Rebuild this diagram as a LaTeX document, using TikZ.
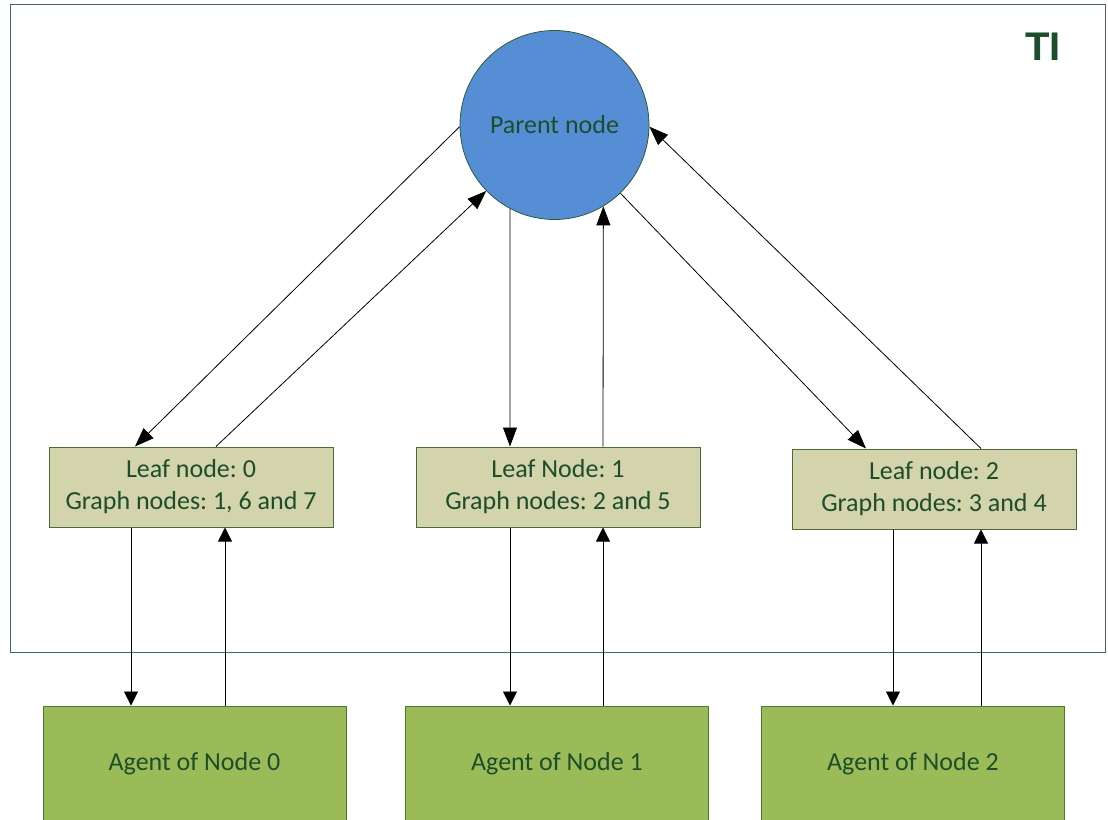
\documentclass[tikz,border=0pt]{standalone}
\usepackage{fontspec}
\setmainfont{Carlito}
\newfontfamily\headfont{Liberation Sans}
\usetikzlibrary{arrows.meta,calc}
\frenchspacing
\definecolor{txtgreen}{HTML}{1E4D2B}
\definecolor{framegreen}{HTML}{466A4C}
\definecolor{leaffill}{HTML}{D3D3AC}
\definecolor{leafline}{HTML}{4A6A3A}
\definecolor{agentfill}{HTML}{9BBB59}
\definecolor{agentline}{HTML}{4C7A30}
\definecolor{parentfill}{HTML}{558ED5}
\definecolor{parentline}{HTML}{2F5A3A}
\tikzset{
  lbl/.style={text=txtgreen, font=\fontsize{26}{32}\selectfont, align=center},
  leafbox/.style={lbl, draw=leafline, fill=leaffill, line width=1pt,
    minimum width=284pt, minimum height=80pt, inner sep=0pt},
  agentbox/.style={lbl, draw=agentline, fill=agentfill, line width=1pt,
    minimum width=303pt, minimum height=115pt, inner sep=0pt},
  parentcirc/.style={lbl, circle, draw=parentline, fill=parentfill, line width=0.8pt,
    minimum size=189pt, inner sep=0pt},
  arr/.style={draw=black, line width=0.8pt, -{Triangle[length=19pt,width=14pt]}},
  arrlow/.style={draw=black, line width=0.8pt, -{Triangle[length=14pt,width=14pt]}}
}
\begin{document}
\begin{tikzpicture}[x=1pt,y=-1pt]
  \useasboundingbox (0,0) rectangle (1108,819);
  \clip (0,0) rectangle (1108,819);
  % outer TI frame
  \draw[draw=framegreen, line width=1pt] (10,4) rectangle (1105,652);
  \node[text=txtgreen, font=\headfont\bfseries\fontsize{40}{40}\selectfont] (ti) at (1043,47) {TI};
  % tree nodes
  \node[parentcirc] (parent) at (554.5,125) {Parent node};
  \node[leafbox] (leaf0) at (191,487) {Leaf node: 0\\Graph nodes: 1, 6 and 7};
  \node[leafbox] (leaf1) at (558,487) {Leaf Node: 1\\Graph nodes: 2 and 5};
  \node[leafbox] (leaf2) at (934,489) {Leaf node: 2\\Graph nodes: 3 and 4};
  % agents
  \node[agentbox] (agent0) at (194.5,763.5) {Agent of Node 0};
  \node[agentbox] (agent1) at (557,763.5) {Agent of Node 1};
  \node[agentbox] (agent2) at (913,763.5) {Agent of Node 2};
  % parent <-> leaves
  \draw[arr] (parent.181) -- ([xshift=-56pt]leaf0.north);
  \draw[arr] ([xshift=25pt]leaf0.north) -- (parent.224);
  \draw[arr] (parent.242) -- ([xshift=-48pt]leaf1.north);
  \draw[arr] ([xshift=45pt]leaf1.north) -- (parent.301);
  \draw[arr] (parent.314) -- ([xshift=-68pt]leaf2.north);
  \draw[arr] ([xshift=47pt]leaf2.north) -- (parent.359);
  % leaves <-> agents
  \draw[arrlow] ([xshift=-60pt]leaf0.south) -- ([xshift=-60pt]leaf0.south |- agent0.north);
  \draw[arrlow] ([xshift=34pt]leaf0.south |- agent0.north) -- ([xshift=34pt]leaf0.south);
  \draw[arrlow] ([xshift=-48pt]leaf1.south) -- ([xshift=-48pt]leaf1.south |- agent1.north);
  \draw[arrlow] ([xshift=45pt]leaf1.south |- agent1.north) -- ([xshift=45pt]leaf1.south);
  \draw[arrlow] ([xshift=-41pt]leaf2.south) -- ([xshift=-41pt]leaf2.south |- agent2.north);
  \draw[arrlow] ([xshift=47pt]leaf2.south |- agent2.north) -- ([xshift=47pt]leaf2.south);
\end{tikzpicture}
\end{document}
